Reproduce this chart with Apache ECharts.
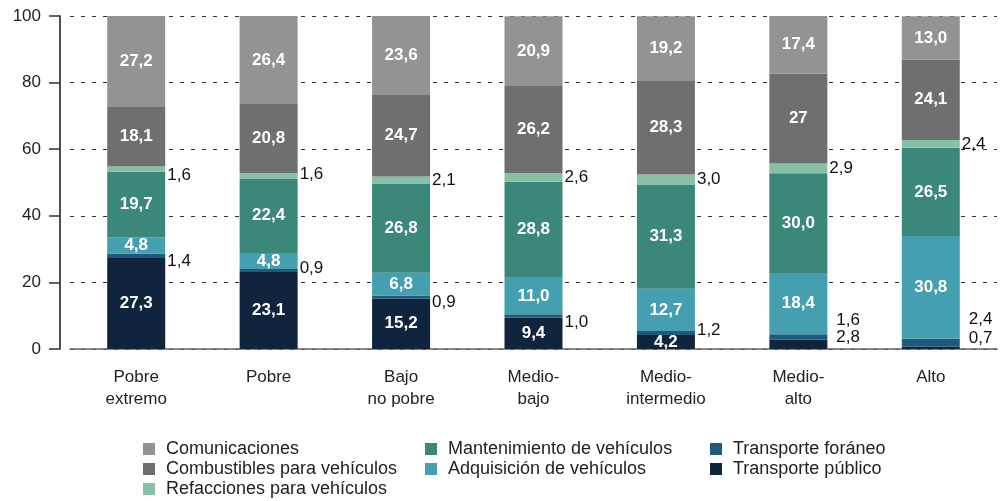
<!DOCTYPE html>
<html>
<head>
<meta charset="utf-8">
<script src="https://cdn.jsdelivr.net/npm/echarts@6/dist/echarts.min.js"></script>
<style>
  html, body { margin: 0; padding: 0; background: #fff; }
  #chart { width: 1000px; height: 501px; }
</style>
</head>
<body>
<div id="chart"></div>
<script>
// datos tal como aparecen en la gráfica (coma decimal)
const categorias = ['Pobre\nextremo', 'Pobre', 'Bajo\nno pobre', 'Medio-\nbajo', 'Medio-\nintermedio', 'Medio-\nalto', 'Alto']
const transportePublico = ['27,3', '23,1', '15,2', '9,4', '4,2', '2,8', '0,7']
const transporteForaneo = ['1,4', '0,9', '0,9', '1,0', '1,2', '1,6', '2,4']
const adquisicion = ['4,8', '4,8', '6,8', '11,0', '12,7', '18,4', '30,8']
const mantenimiento = ['19,7', '22,4', '26,8', '28,8', '31,3', '30,0', '26,5']
const refacciones = ['1,6', '1,6', '2,1', '2,6', '3,0', '2,9', '2,4']
const combustibles = ['18,1', '20,8', '24,7', '26,2', '28,3', '27', '24,1']
const comunicaciones = ['27,2', '26,4', '23,6', '20,9', '19,2', '17,4', '13,0']
const ticksY = [0, 20, 40, 60, 80, 100]

const fuente = 'Liberation Sans, Arial, sans-serif'

const toNum = s => parseFloat(s.replace(',', '.'))

// etiquetas fuera de la barra (a la derecha), desplazamiento por categoría
const fuera = {
  'Transporte foráneo': [[0, 6], [0, -2], [0, 5], [0, 6], [0, -3], [7, -17], [7, -23]],
  'Refacciones para vehículos': [[0, 6], [0, -2], [0, 0], [0, 0], [0, 0], [0, 0], [0, 0]],
  'Transporte público': [null, null, null, null, null, [7, -7], [7, -10]]
}

function serie(name, valores, color) {
  return {
    name,
    type: 'bar',
    stack: 'total',
    barWidth: 58,
    itemStyle: { color },
    label: {
      show: true,
      position: 'inside',
      color: '#fff',
      fontWeight: 'bold',
      fontSize: 17,
      fontFamily: fuente,
      formatter: p => valores[p.dataIndex]
    },
    data: valores.map((v, i) => {
      const item = { value: toNum(v) }
      const off = fuera[name] && fuera[name][i]
      if (off) {
        item.label = {
          position: 'right',
          distance: 2,
          offset: off,
          color: '#111',
          fontWeight: 'normal'
        }
      }
      return item
    })
  }
}

const chart = echarts.init(document.getElementById('chart'))

const leyenda = (data, left) => ({
  data,
  orient: 'vertical',
  left,
  top: 439,
  height: 62,
  padding: 0,
  itemWidth: 12,
  itemHeight: 12,
  itemGap: 0,
  icon: 'rect',
  textStyle: {
    fontFamily: fuente,
    fontSize: 18,
    color: '#222',
    lineHeight: 20,
    padding: [0, 0, 0, 6]
  }
})

chart.setOption({
  animation: false,
  grid: { left: 70, right: 3, top: 16, bottom: 152 },
  legend: [
    leyenda(['Comunicaciones', 'Combustibles para vehículos', 'Refacciones para vehículos'], 143),
    leyenda(['Mantenimiento de vehículos', 'Adquisición de vehículos'], 425),
    leyenda(['Transporte foráneo', 'Transporte público'], 710)
  ],
  xAxis: {
    type: 'category',
    data: categorias,
    axisLine: { lineStyle: { color: '#666', width: 1.5 } },
    axisTick: { length: 8, lineStyle: { color: '#555', width: 1.5 }, interval: 0 },
    axisLabel: {
      fontFamily: fuente,
      fontSize: 17,
      color: '#222',
      lineHeight: 22,
      margin: 17,
      interval: 0
    }
  },
  yAxis: {
    type: 'value',
    min: ticksY[0],
    max: ticksY[ticksY.length - 1],
    interval: 20,
    offset: 10,
    axisLine: { show: true, lineStyle: { color: '#111', width: 1.5 } },
    axisTick: { show: true, length: 11, lineStyle: { color: '#333', width: 1.5 } },
    axisLabel: { fontFamily: fuente, fontSize: 17, color: '#222', margin: 19 },
    splitLine: { lineStyle: { color: '#333', type: [4, 7], width: 1 } }
  },
  series: [
    serie('Transporte público', transportePublico, '#10253d'),
    serie('Transporte foráneo', transporteForaneo, '#1f5a7a'),
    serie('Adquisición de vehículos', adquisicion, '#44a0b0'),
    serie('Mantenimiento de vehículos', mantenimiento, '#3b877a'),
    serie('Refacciones para vehículos', refacciones, '#86c0a5'),
    serie('Combustibles para vehículos', combustibles, '#706f6f'),
    serie('Comunicaciones', comunicaciones, '#939393')
  ]
})
</script>
</body>
</html>
